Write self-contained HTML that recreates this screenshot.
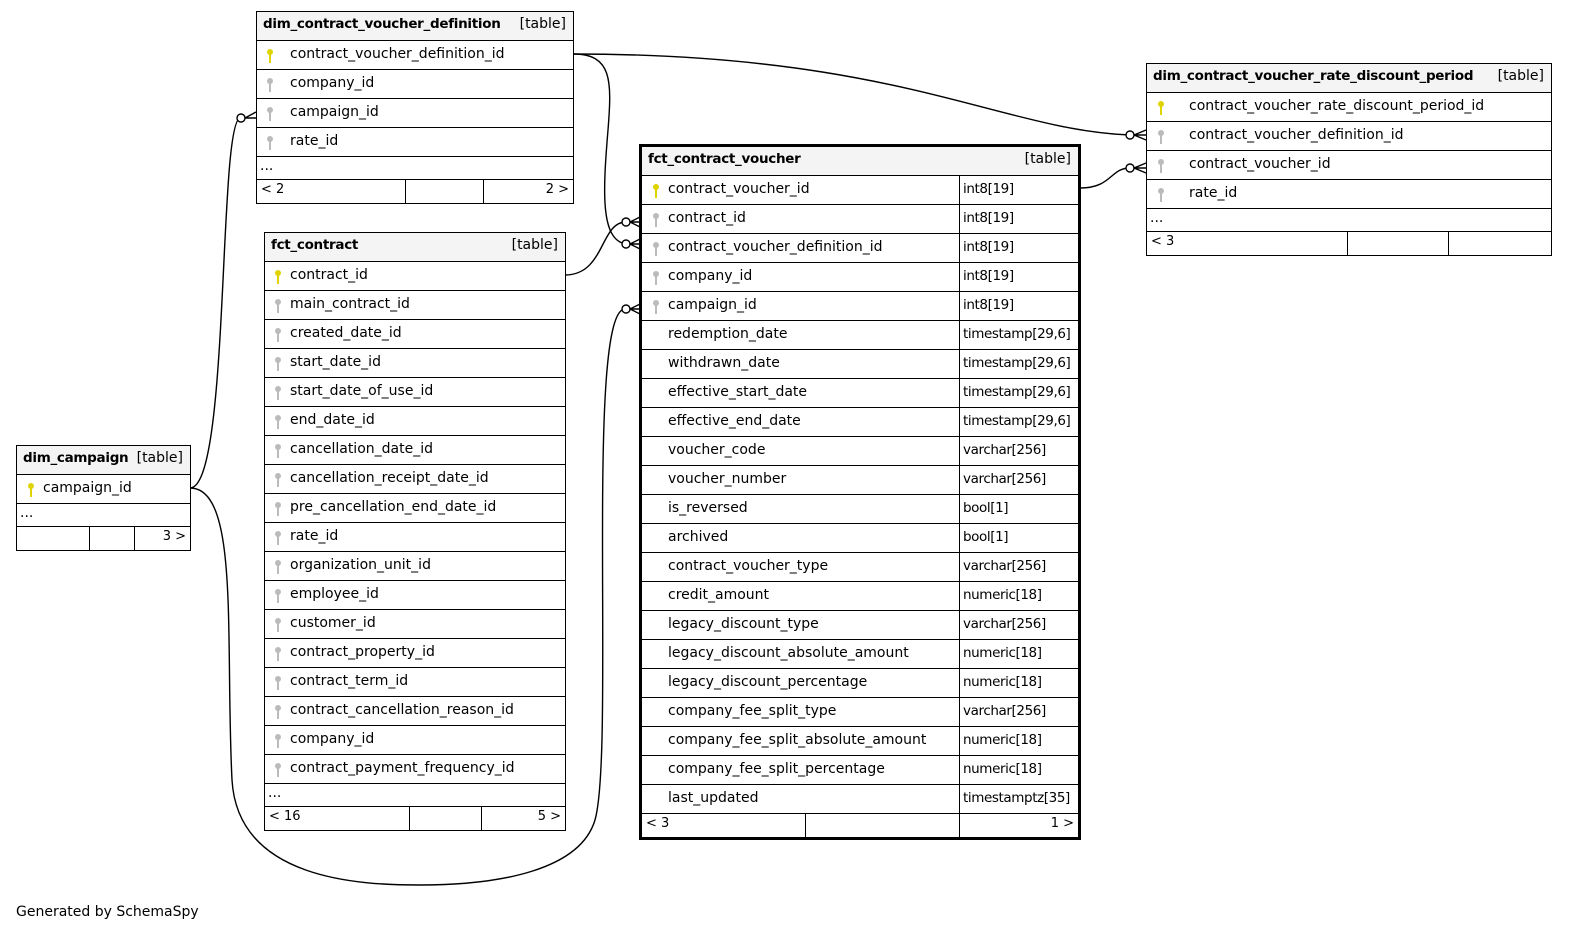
<!DOCTYPE html>
<html><head><meta charset="utf-8"><style>
body{margin:0;width:1579px;height:940px;background:#fff;position:relative;font-family:"DejaVu Sans","Liberation Sans",sans-serif;font-size:14px;color:#000;overflow:hidden}
.t{position:absolute;border:1px solid #000;background:#fff;box-sizing:border-box}
.t.b{border:3px solid #000}
.h{height:29px;background:#f4f4f4;border-bottom:1px solid #000;position:relative;font-weight:bold;font-size:13.5px;letter-spacing:-0.3px;line-height:24px;padding-left:6px;box-sizing:border-box;white-space:nowrap}
.h span{position:absolute;right:7px;top:0;font-weight:normal;letter-spacing:0;font-size:14px;background:#f4f4f4;padding-left:4px}
.r{height:29px;border-bottom:1.5px solid #000;position:relative;line-height:27px;box-sizing:border-box;white-space:nowrap}
.r .k{position:absolute;top:7px}
.r .ty{position:absolute;top:0;bottom:0;border-left:1px solid #000;padding-left:3px;font-size:13.5px;letter-spacing:-0.4px}
.d{height:23px;border-bottom:1px solid #000;line-height:18px;padding-left:3px;box-sizing:border-box}
.f{height:23px;display:flex;line-height:20px;font-size:13px}
.f div{border-right:1px solid #000;box-sizing:border-box;padding:0 4px}
.f div:last-child{border-right:none;text-align:right}
svg.c{position:absolute;left:0;top:0}
.gen{position:absolute;left:16px;top:904px;font-size:14px}
</style></head><body>
<svg class="c" width="1579" height="940" fill="none" stroke="#000" stroke-width="1.4">
<path d="M573,54 C612,54 612,80 608,130 C603,190 600,240 626,244"/>
<path d="M565,275 C605,275 600,222 626,222"/>
<path d="M573,54 C900,54 1000,130 1130,135"/>
<path d="M1080,188 C1112,188 1110,168 1130,168"/>
<path d="M190,488 C230,488 218,125 240,118"/>
<path d="M190,488 C240,488 225,640 232,780 C238,880 360,885 420,885 C500,885 580,870 595,820 C615,750 585,310 625,309"/>
<g fill="#fff">
<circle cx="626" cy="222" r="4"/><circle cx="626" cy="244" r="4"/><circle cx="626" cy="309" r="4"/>
<circle cx="1130" cy="135" r="4"/><circle cx="1130" cy="168" r="4"/><circle cx="241" cy="118" r="4"/>
</g>
<path d="M630,222 L640,217 M630,222 L640,222 M630,222 L640,227 M630,244 L640,239 M630,244 L640,244 M630,244 L640,249 M630,309 L640,304 M630,309 L640,309 M630,309 L640,314 M1134,135 L1146,130 M1134,135 L1146,135 M1134,135 L1146,140 M1134,168 L1146,163 M1134,168 L1146,168 M1134,168 L1146,173 M245,118 L256,112 M245,118 L256,118"/>
</svg>

<div class="t" style="left:256px;top:11px;width:318px">
<div class="h">dim_contract_voucher_definition<span>[table]</span></div>
<div class="r" style="padding-left:33px"><svg class="k" style="left:8px" width="10" height="16"><circle cx="5" cy="4" r="3" fill="#e0d400"/><rect x="4" y="6" width="2" height="9" fill="#e0d400"/></svg>contract_voucher_definition_id</div>
<div class="r" style="padding-left:33px"><svg class="k" style="left:8px" width="10" height="16"><circle cx="5" cy="4" r="3" fill="#bbb"/><rect x="4" y="6" width="2" height="9" fill="#bbb"/></svg>company_id</div>
<div class="r" style="padding-left:33px"><svg class="k" style="left:8px" width="10" height="16"><circle cx="5" cy="4" r="3" fill="#bbb"/><rect x="4" y="6" width="2" height="9" fill="#bbb"/></svg>campaign_id</div>
<div class="r" style="padding-left:33px"><svg class="k" style="left:8px" width="10" height="16"><circle cx="5" cy="4" r="3" fill="#bbb"/><rect x="4" y="6" width="2" height="9" fill="#bbb"/></svg>rate_id</div>
<div class="d">...</div>
<div class="f"><div style="width:149px">&lt; 2</div><div style="width:78px"></div><div style="width:89px">2 &gt;</div></div>
</div>

<div class="t" style="left:264px;top:232px;width:302px">
<div class="h">fct_contract<span>[table]</span></div>
<div class="r" style="padding-left:25px"><svg class="k" style="left:8px" width="10" height="16"><circle cx="5" cy="4" r="3" fill="#e0d400"/><rect x="4" y="6" width="2" height="9" fill="#e0d400"/></svg>contract_id</div>
<div class="r" style="padding-left:25px"><svg class="k" style="left:8px" width="10" height="16"><circle cx="5" cy="4" r="3" fill="#bbb"/><rect x="4" y="6" width="2" height="9" fill="#bbb"/></svg>main_contract_id</div>
<div class="r" style="padding-left:25px"><svg class="k" style="left:8px" width="10" height="16"><circle cx="5" cy="4" r="3" fill="#bbb"/><rect x="4" y="6" width="2" height="9" fill="#bbb"/></svg>created_date_id</div>
<div class="r" style="padding-left:25px"><svg class="k" style="left:8px" width="10" height="16"><circle cx="5" cy="4" r="3" fill="#bbb"/><rect x="4" y="6" width="2" height="9" fill="#bbb"/></svg>start_date_id</div>
<div class="r" style="padding-left:25px"><svg class="k" style="left:8px" width="10" height="16"><circle cx="5" cy="4" r="3" fill="#bbb"/><rect x="4" y="6" width="2" height="9" fill="#bbb"/></svg>start_date_of_use_id</div>
<div class="r" style="padding-left:25px"><svg class="k" style="left:8px" width="10" height="16"><circle cx="5" cy="4" r="3" fill="#bbb"/><rect x="4" y="6" width="2" height="9" fill="#bbb"/></svg>end_date_id</div>
<div class="r" style="padding-left:25px"><svg class="k" style="left:8px" width="10" height="16"><circle cx="5" cy="4" r="3" fill="#bbb"/><rect x="4" y="6" width="2" height="9" fill="#bbb"/></svg>cancellation_date_id</div>
<div class="r" style="padding-left:25px"><svg class="k" style="left:8px" width="10" height="16"><circle cx="5" cy="4" r="3" fill="#bbb"/><rect x="4" y="6" width="2" height="9" fill="#bbb"/></svg>cancellation_receipt_date_id</div>
<div class="r" style="padding-left:25px"><svg class="k" style="left:8px" width="10" height="16"><circle cx="5" cy="4" r="3" fill="#bbb"/><rect x="4" y="6" width="2" height="9" fill="#bbb"/></svg>pre_cancellation_end_date_id</div>
<div class="r" style="padding-left:25px"><svg class="k" style="left:8px" width="10" height="16"><circle cx="5" cy="4" r="3" fill="#bbb"/><rect x="4" y="6" width="2" height="9" fill="#bbb"/></svg>rate_id</div>
<div class="r" style="padding-left:25px"><svg class="k" style="left:8px" width="10" height="16"><circle cx="5" cy="4" r="3" fill="#bbb"/><rect x="4" y="6" width="2" height="9" fill="#bbb"/></svg>organization_unit_id</div>
<div class="r" style="padding-left:25px"><svg class="k" style="left:8px" width="10" height="16"><circle cx="5" cy="4" r="3" fill="#bbb"/><rect x="4" y="6" width="2" height="9" fill="#bbb"/></svg>employee_id</div>
<div class="r" style="padding-left:25px"><svg class="k" style="left:8px" width="10" height="16"><circle cx="5" cy="4" r="3" fill="#bbb"/><rect x="4" y="6" width="2" height="9" fill="#bbb"/></svg>customer_id</div>
<div class="r" style="padding-left:25px"><svg class="k" style="left:8px" width="10" height="16"><circle cx="5" cy="4" r="3" fill="#bbb"/><rect x="4" y="6" width="2" height="9" fill="#bbb"/></svg>contract_property_id</div>
<div class="r" style="padding-left:25px"><svg class="k" style="left:8px" width="10" height="16"><circle cx="5" cy="4" r="3" fill="#bbb"/><rect x="4" y="6" width="2" height="9" fill="#bbb"/></svg>contract_term_id</div>
<div class="r" style="padding-left:25px"><svg class="k" style="left:8px" width="10" height="16"><circle cx="5" cy="4" r="3" fill="#bbb"/><rect x="4" y="6" width="2" height="9" fill="#bbb"/></svg>contract_cancellation_reason_id</div>
<div class="r" style="padding-left:25px"><svg class="k" style="left:8px" width="10" height="16"><circle cx="5" cy="4" r="3" fill="#bbb"/><rect x="4" y="6" width="2" height="9" fill="#bbb"/></svg>company_id</div>
<div class="r" style="padding-left:25px"><svg class="k" style="left:8px" width="10" height="16"><circle cx="5" cy="4" r="3" fill="#bbb"/><rect x="4" y="6" width="2" height="9" fill="#bbb"/></svg>contract_payment_frequency_id</div>
<div class="d">...</div>
<div class="f"><div style="width:145px">&lt; 16</div><div style="width:72px"></div><div style="width:83px">5 &gt;</div></div>
</div>

<div class="t b" style="left:639px;top:144px;width:442px">
<div class="h">fct_contract_voucher<span>[table]</span></div>
<div class="r" style="padding-left:26px"><svg class="k" style="left:9px" width="10" height="16"><circle cx="5" cy="4" r="3" fill="#e0d400"/><rect x="4" y="6" width="2" height="9" fill="#e0d400"/></svg>contract_voucher_id<span class="ty" style="left:317px">int8[19]</span></div>
<div class="r" style="padding-left:26px"><svg class="k" style="left:9px" width="10" height="16"><circle cx="5" cy="4" r="3" fill="#bbb"/><rect x="4" y="6" width="2" height="9" fill="#bbb"/></svg>contract_id<span class="ty" style="left:317px">int8[19]</span></div>
<div class="r" style="padding-left:26px"><svg class="k" style="left:9px" width="10" height="16"><circle cx="5" cy="4" r="3" fill="#bbb"/><rect x="4" y="6" width="2" height="9" fill="#bbb"/></svg>contract_voucher_definition_id<span class="ty" style="left:317px">int8[19]</span></div>
<div class="r" style="padding-left:26px"><svg class="k" style="left:9px" width="10" height="16"><circle cx="5" cy="4" r="3" fill="#bbb"/><rect x="4" y="6" width="2" height="9" fill="#bbb"/></svg>company_id<span class="ty" style="left:317px">int8[19]</span></div>
<div class="r" style="padding-left:26px"><svg class="k" style="left:9px" width="10" height="16"><circle cx="5" cy="4" r="3" fill="#bbb"/><rect x="4" y="6" width="2" height="9" fill="#bbb"/></svg>campaign_id<span class="ty" style="left:317px">int8[19]</span></div>
<div class="r" style="padding-left:26px">redemption_date<span class="ty" style="left:317px">timestamp[29,6]</span></div>
<div class="r" style="padding-left:26px">withdrawn_date<span class="ty" style="left:317px">timestamp[29,6]</span></div>
<div class="r" style="padding-left:26px">effective_start_date<span class="ty" style="left:317px">timestamp[29,6]</span></div>
<div class="r" style="padding-left:26px">effective_end_date<span class="ty" style="left:317px">timestamp[29,6]</span></div>
<div class="r" style="padding-left:26px">voucher_code<span class="ty" style="left:317px">varchar[256]</span></div>
<div class="r" style="padding-left:26px">voucher_number<span class="ty" style="left:317px">varchar[256]</span></div>
<div class="r" style="padding-left:26px">is_reversed<span class="ty" style="left:317px">bool[1]</span></div>
<div class="r" style="padding-left:26px">archived<span class="ty" style="left:317px">bool[1]</span></div>
<div class="r" style="padding-left:26px">contract_voucher_type<span class="ty" style="left:317px">varchar[256]</span></div>
<div class="r" style="padding-left:26px">credit_amount<span class="ty" style="left:317px">numeric[18]</span></div>
<div class="r" style="padding-left:26px">legacy_discount_type<span class="ty" style="left:317px">varchar[256]</span></div>
<div class="r" style="padding-left:26px">legacy_discount_absolute_amount<span class="ty" style="left:317px">numeric[18]</span></div>
<div class="r" style="padding-left:26px">legacy_discount_percentage<span class="ty" style="left:317px">numeric[18]</span></div>
<div class="r" style="padding-left:26px">company_fee_split_type<span class="ty" style="left:317px">varchar[256]</span></div>
<div class="r" style="padding-left:26px">company_fee_split_absolute_amount<span class="ty" style="left:317px">numeric[18]</span></div>
<div class="r" style="padding-left:26px">company_fee_split_percentage<span class="ty" style="left:317px">numeric[18]</span></div>
<div class="r" style="padding-left:26px">last_updated<span class="ty" style="left:317px">timestamptz[35]</span></div>
<div class="f"><div style="width:164px">&lt; 3</div><div style="width:154px"></div><div style="width:118px">1 &gt;</div></div>
</div>

<div class="t" style="left:1146px;top:63px;width:406px">
<div class="h">dim_contract_voucher_rate_discount_period<span>[table]</span></div>
<div class="r" style="padding-left:42px"><svg class="k" style="left:9px" width="10" height="16"><circle cx="5" cy="4" r="3" fill="#e0d400"/><rect x="4" y="6" width="2" height="9" fill="#e0d400"/></svg>contract_voucher_rate_discount_period_id</div>
<div class="r" style="padding-left:42px"><svg class="k" style="left:9px" width="10" height="16"><circle cx="5" cy="4" r="3" fill="#bbb"/><rect x="4" y="6" width="2" height="9" fill="#bbb"/></svg>contract_voucher_definition_id</div>
<div class="r" style="padding-left:42px"><svg class="k" style="left:9px" width="10" height="16"><circle cx="5" cy="4" r="3" fill="#bbb"/><rect x="4" y="6" width="2" height="9" fill="#bbb"/></svg>contract_voucher_id</div>
<div class="r" style="padding-left:42px"><svg class="k" style="left:9px" width="10" height="16"><circle cx="5" cy="4" r="3" fill="#bbb"/><rect x="4" y="6" width="2" height="9" fill="#bbb"/></svg>rate_id</div>
<div class="d">...</div>
<div class="f"><div style="width:201px">&lt; 3</div><div style="width:101px"></div><div style="width:102px"></div></div>
</div>

<div class="t" style="left:16px;top:445px;width:175px">
<div class="h">dim_campaign<span>[table]</span></div>
<div class="r" style="padding-left:26px"><svg class="k" style="left:9px" width="10" height="16"><circle cx="5" cy="4" r="3" fill="#e0d400"/><rect x="4" y="6" width="2" height="9" fill="#e0d400"/></svg>campaign_id</div>
<div class="d">...</div>
<div class="f"><div style="width:73px"></div><div style="width:45px"></div><div style="width:55px">3 &gt;</div></div>
</div>

<div class="gen">Generated by SchemaSpy</div>
</body></html>
